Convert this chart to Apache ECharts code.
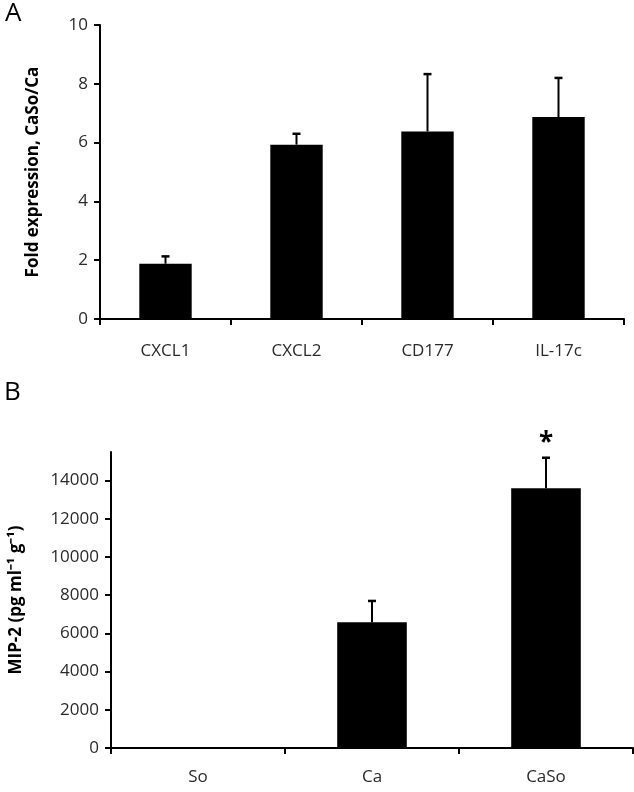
<!DOCTYPE html>
<html><head><meta charset="utf-8">
<script src="https://cdn.jsdelivr.net/npm/echarts@6/dist/echarts.min.js"></script>
<style>html,body{margin:0;padding:0;background:#fff}#c{width:634px;height:792px}</style>
</head><body><div id="c"></div>
<script>
// Panel A
const catsA = ["CXCL1", "CXCL2", "CD177", "IL-17c"];
const valsA = [1.88, 5.93, 6.38, 6.87];
const errA = [2.13, 6.3, 8.33, 8.2];
// Panel B
const catsB = ["So", "Ca", "CaSo"];
const valsB = [0, 6580, 13600];
const errB = [null, 7700, 15200];
const sigB = ["", "", "*"];
const ticksB = [0, 2000, 4000, 6000, 8000, 10000, 12000, 14000];

const FONT = "Open Sans";
const chart = echarts.init(document.getElementById('c'), null, {renderer: 'canvas'});

function errSeries(xi, yi, vals, errs, sig) {
  return {
    type: 'custom', xAxisIndex: xi, yAxisIndex: yi, z: 5,
    data: vals.map((v, i) => [i, v, errs[i]]),
    renderItem: function (params, api) {
      const i = api.value(0), v = api.value(1), e = api.value(2);
      const children = [];
      const s = sig ? sig[i] : "";
      if (e != null && !isNaN(e)) {
        const p0 = api.coord([i, v]);
        const p1 = api.coord([i, e]);
        children.push({type: 'line', shape: {x1: p0[0], y1: p0[1], x2: p1[0], y2: p1[1]}, style: {stroke: '#000', lineWidth: 2}});
        children.push({type: 'line', shape: {x1: p1[0] - 4, y1: p1[1], x2: p1[0] + 4, y2: p1[1]}, style: {stroke: '#000', lineWidth: 2.5}});
        if (s) {
          children.push({type: 'text', x: p1[0], y: p1[1] - 14, style: {text: s, fill: '#000', font: 'bold 26px ' + FONT, align: 'center', verticalAlign: 'middle'}});
        }
      }
      return {type: 'group', children: children};
    }
  };
}

const axisLineStyle = {show: true, lineStyle: {color: '#000', width: 2}};
const labelStyle = {color: '#2a2a2a', fontFamily: FONT, fontSize: 17};
function tickStyle() { return {show: true, length: 6, lineStyle: {color: '#000', width: 2}}; }
const nameStyle = {fontFamily: FONT, fontWeight: 'bold', fontSize: 17, color: '#000'};

chart.setOption({
  animation: false,
  backgroundColor: '#fff',
  graphic: [
    {type: 'text', left: 5, top: 1, style: {text: 'A', font: '26px ' + FONT, fill: '#000'}},
    {type: 'text', left: 4, top: 380, style: {text: 'B', font: '26px ' + FONT, fill: '#000'}}
  ],
  grid: [
    {left: 100, right: 10, top: 25, height: 294},
    {left: 100, right: 1, top: 452, height: 296}
  ],
  xAxis: [
    {type: 'category', gridIndex: 0, data: catsA, axisLine: axisLineStyle, axisTick: tickStyle(),
     axisLabel: Object.assign({margin: 24}, labelStyle)},
    {type: 'category', gridIndex: 1, data: catsB, axisLine: axisLineStyle, axisTick: tickStyle(),
     axisLabel: Object.assign({margin: 21}, labelStyle)}
  ],
  yAxis: [
    {type: 'value', gridIndex: 0, min: 0, max: 10, interval: 2, splitLine: {show: false},
     axisLine: axisLineStyle, axisTick: tickStyle(),
     axisLabel: Object.assign({margin: 12}, labelStyle),
     name: 'Fold expression, CaSo/Ca', nameLocation: 'middle', nameGap: 58, nameTextStyle: nameStyle},
    {type: 'value', gridIndex: 1, min: 0, max: 15500, interval: 2000, splitLine: {show: false},
     axisLine: axisLineStyle,
     axisTick: Object.assign({customValues: ticksB}, tickStyle()),
     axisLabel: Object.assign({margin: 12, customValues: ticksB, formatter: v => String(v)}, labelStyle),
     name: 'MIP-2 (pg ml⁻¹ g⁻¹)', nameLocation: 'middle', nameGap: 86, nameTextStyle: nameStyle}
  ],
  series: [
    {type: 'bar', xAxisIndex: 0, yAxisIndex: 0, data: valsA, barWidth: '40%', itemStyle: {color: '#000'}},
    errSeries(0, 0, valsA, errA, null),
    {type: 'bar', xAxisIndex: 1, yAxisIndex: 1, data: valsB, barWidth: '40%', itemStyle: {color: '#000'}},
    errSeries(1, 1, valsB, errB, sigB)
  ]
});
</script></body></html>
